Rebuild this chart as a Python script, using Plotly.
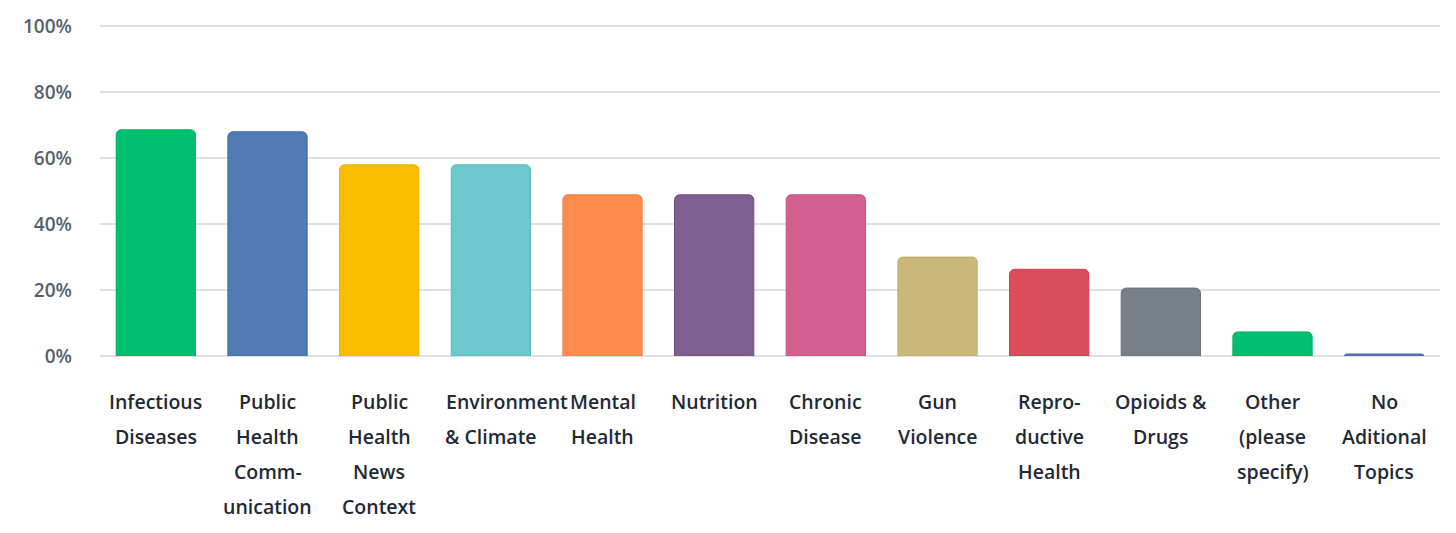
import plotly.graph_objects as go

categories = [
    "Infectious<br>Diseases",
    "Public<br>Health<br>Comm-<br>unication",
    "Public<br>Health<br>News<br>Context",
    "Environment<br>& Climate",
    "Mental<br>Health",
    "Nutrition",
    "Chronic<br>Disease",
    "Gun<br>Violence",
    "Repro-<br>ductive<br>Health",
    "Opioids &<br>Drugs",
    "Other<br>(please<br>specify)",
    "No<br>Aditional<br>Topics",
]
values = [68.6, 68.0, 58.0, 58.0, 48.9, 48.9, 48.9, 30.0, 26.3, 20.6, 7.3, 0.6]
colors = ["#00BF6F", "#507CB6", "#F9BE00", "#6BC8CD", "#FF8B4F", "#7F5F90",
          "#D25F90", "#C9B87A", "#DB4D5C", "#768086", "#00BF6F", "#507CB6"]
edge_colors = ["#00B065", "#3F6AA8", "#EDB200", "#5DBAC0", "#F27C40", "#705082",
               "#C45082", "#BCAB6C", "#CE3F4F", "#687278", "#00B065", "#3F6AA8"]
y_ticks = [0, 20, 40, 60, 80, 100]
y_tick_labels = ["0%", "20%", "40%", "60%", "80%", "100%"]
# labels whose first word overflows the label box start at the box's left edge
overflow_labels = ["Environment"]

x_idx = list(range(len(categories)))

fig = go.Figure(go.Bar(
    x=x_idx,
    y=values,
    marker=dict(color=colors, line=dict(color=edge_colors, width=1), cornerradius=5),
    hoverinfo="skip",
))

# category labels with the reference's generous line spacing
annotations = []
for i, cat in enumerate(categories):
    for j, line in enumerate(cat.split("<br>")):
        if line in overflow_labels:
            anchor, shift = "left", -47
        else:
            anchor, shift = "center", 0
        annotations.append(dict(
            x=i, y=0, xref="x", yref="y", text=line, showarrow=False,
            yshift=-45 - 35 * j, yanchor="middle", xanchor=anchor, xshift=shift,
            font=dict(family="Open Sans", size=19.5, color="#1F2A37", weight=600),
        ))

fig.update_layout(
    width=1448, height=525,
    margin=dict(l=92, r=16, t=15, b=177, autoexpand=False),
    paper_bgcolor="white", plot_bgcolor="white",
    bargap=0.29,
    showlegend=False,
    annotations=annotations,
    font=dict(family="Open Sans"),
)
fig.update_xaxes(
    tickvals=x_idx, showticklabels=False, showgrid=False, zeroline=False,
    showline=False, range=[-0.5, len(categories) - 0.5], automargin=False,
)
fig.update_yaxes(
    range=[0, 101], tickvals=y_ticks, ticktext=y_tick_labels,
    showgrid=True, gridcolor="#E0E0E0", gridwidth=1.5,
    zeroline=True, zerolinecolor="#E0E0E0", zerolinewidth=1.5,
    tickfont=dict(family="Open Sans", size=19, color="#56626B", weight=600),
    ticklabelstandoff=27, showline=False, automargin=False,
)

fig.write_html("out.html")
